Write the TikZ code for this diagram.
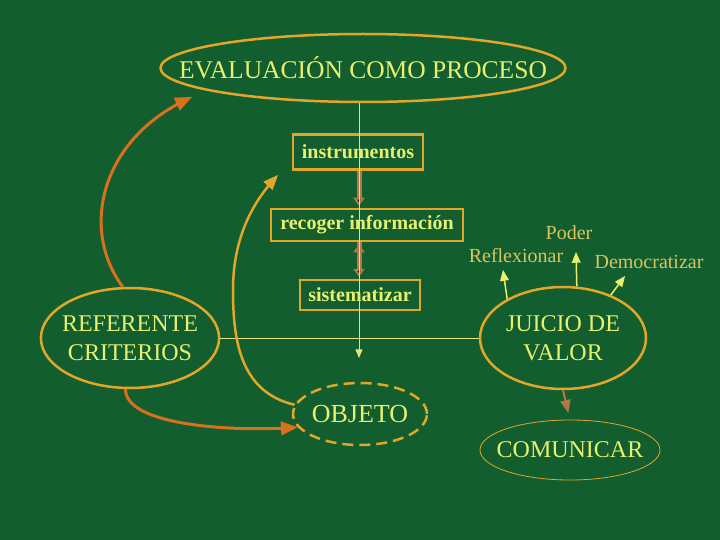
\documentclass[tikz,border=0pt]{standalone}
\usepackage{fontspec}
\setmainfont{Liberation Serif}
\usepackage{tikz}
\usetikzlibrary{arrows, arrows.meta, shapes.geometric}
\definecolor{fondo}{RGB}{18,94,46}
\definecolor{oro}{RGB}{226,166,40}
\definecolor{naranja}{RGB}{216,112,30}
\definecolor{cafe}{RGB}{178,120,72}
\definecolor{texto}{RGB}{232,240,112}
\definecolor{tostado}{RGB}{218,196,96}
\definecolor{linea}{RGB}{232,224,128}
\tikzstyle{globo}=[ellipse, draw=oro, line width=2.5pt, inner sep=0pt, text=texto, align=center, font=\fontsize{24}{29}\selectfont]
\tikzstyle{caja}=[rectangle, draw=oro, line width=2.5pt, inner sep=0pt, text=texto, font=\bfseries\fontsize{20}{24}\selectfont]
\tikzstyle{rotulo}=[text=tostado, inner sep=0pt, font=\fontsize{20}{24}\selectfont]
\newcommand{\globo}{\node[globo]}
\newcommand{\caja}{\node[caja]}

\begin{document}
\begin{tikzpicture}[x=1pt, y=-1pt]
                    \fill[fondo] (0,0) rectangle (720,540);
                    \useasboundingbox (0,0) rectangle (720,540);
                    \globo (evalua) at (363,68) [minimum width=405, minimum height=68, inner xsep=-41pt, font=\fontsize{25.5}{30}\selectfont]{EVALUACIÓN COMO PROCESO};
                    \caja (instr) at (358,152) [minimum width=130, minimum height=35]{instrumentos};
                    \caja (recoger) at (367,225) [minimum width=192, minimum height=32]{recoger información};
                    \caja (sistem) at (360,295) [minimum width=120, minimum height=30]{sistematizar};
                    \globo (refer) at (130,338) [minimum width=176, minimum height=100, inner xsep=-5pt]{REFERENTE\\CRITERIOS};
                    \globo (juicio) at (563,338) [minimum width=166, minimum height=102]{JUICIO DE\\VALOR};
                    \globo (objeto) at (360,414) [minimum width=134, minimum height=62, inner xsep=-2pt, dash pattern=on 11pt off 6pt, font=\fontsize{26}{30}\selectfont]{OBJETO};
                    \globo (comunicar) at (570,450) [minimum width=180, minimum height=60, inner xsep=-10pt, line width=0.8pt]{COMUNICAR};
                    \node[rotulo] (poder) at (569,233) {Poder};
                    \node[rotulo] (reflex) at (516,256) {Reflexionar};
                    \node[rotulo] (democ) at (649,262) {Democratizar};
                    \coordinate (obj) at (359,358);
                    \coordinate (pod) at (576,252);
                    \coordinate (ref) at (503,270);
                    \coordinate (dem) at (625,276);
                    \coordinate (cima) at (192,97);
                    \coordinate (inst) at (278,175);
                    \path[draw=linea, line width=1pt]
                        (refer.east) -- (juicio.west)
                    ;
                    \path[draw=cafe, line width=5pt, -{Triangle[length=8pt, width=11pt]}, shorten >=2pt]
                        (instr.south -| obj) edge (recoger.north -| obj)
                        (recoger.south -| obj) edge (sistem.north -| obj)
                    ;
                    \draw[linea, line width=1pt, -triangle 45] (evalua.south -| obj) -- (obj);
                    \draw[texto, line width=1.5pt, -triangle 45] (juicio.75) -- (pod);
                    \draw[texto, line width=1.5pt, -triangle 45] (juicio.145) -- (ref);
                    \draw[texto, line width=1.5pt, -triangle 45] (juicio.42) -- (dem);
                    \draw[cafe, line width=2pt, shorten >=7pt, -triangle 45] (juicio.south) -- (comunicar.north);
                    \draw[naranja, line width=3pt, -triangle 45] (refer.98) .. controls (80,230) and (100,140) .. (cima);
                    \draw[oro, line width=2.5pt, -triangle 45] (objeto.172) .. controls (240,392) and (233,340) .. (233,290) .. controls (233,235) and (255,200) .. (inst);
                    \draw[naranja, line width=3pt, -triangle 45] (refer.265) .. controls (125,425) and (230,432) .. (objeto.192);
                \end{tikzpicture}
\end{document}
